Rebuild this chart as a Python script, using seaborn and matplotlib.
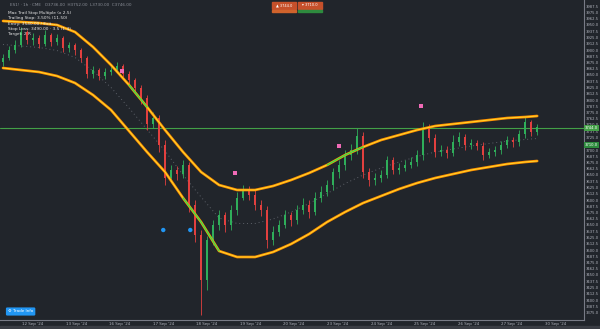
import numpy as np
import pandas as pd
import matplotlib
matplotlib.use("Agg")
import matplotlib.pyplot as plt
import seaborn as sns

# ---------------- data ----------------
opens = [3876,3884,3900,3910,3936,3920,3924,3912,3930,3916,
         3924,3904,3910,3900,3884,3852,3860,3848,3856,3860,
         3868,3852,3840,3824,3804,3752,3764,3710,3644,3660,
         3652,3670,3590,3530,3440,3520,3550,3570,3550,3580,
         3604,3620,3610,3590,3580,3520,3536,3550,3570,3560,
         3580,3590,3576,3604,3616,3630,3656,3670,3690,3700,
         3728,3656,3640,3644,3650,3680,3660,3664,3670,3676,
         3690,3744,3724,3696,3700,3694,3716,3726,3710,3714,
         3708,3690,3696,3700,3710,3720,3716,3732,3756,3736]
closes = [3884,3900,3910,3936,3920,3924,3912,3930,3916,3924,
          3904,3910,3900,3884,3852,3860,3848,3856,3860,3868,
          3852,3840,3824,3804,3752,3764,3710,3644,3660,3652,
          3670,3590,3530,3440,3520,3550,3570,3550,3580,3604,
          3620,3610,3590,3580,3520,3536,3550,3570,3560,3580,
          3590,3576,3604,3616,3630,3656,3670,3690,3700,3728,
          3656,3640,3644,3650,3680,3660,3664,3670,3676,3690,
          3744,3724,3696,3700,3694,3716,3726,3710,3714,3708,
          3690,3696,3700,3710,3720,3716,3732,3756,3736,3746]
highs = [3892,3908,3920,3946,3940,3934,3930,3940,3934,3932,
         3928,3916,3914,3904,3888,3868,3864,3864,3868,3876,
         3872,3858,3844,3830,3810,3776,3770,3720,3670,3668,
         3680,3676,3600,3540,3528,3560,3580,3576,3590,3616,
         3630,3628,3620,3600,3588,3548,3560,3580,3576,3590,
         3604,3600,3616,3628,3640,3664,3680,3700,3712,3744,
         3736,3664,3654,3660,3688,3686,3674,3680,3686,3700,
         3756,3752,3732,3710,3708,3730,3736,3732,3722,3720,
         3716,3704,3708,3718,3728,3726,3740,3766,3760,3752]
lows = [3868,3880,3894,3906,3912,3910,3904,3908,3908,3910,
        3896,3896,3890,3876,3844,3844,3840,3842,3850,3854,
        3846,3832,3814,3792,3740,3744,3696,3630,3636,3640,
        3644,3576,3516,3370,3420,3510,3540,3536,3540,3570,
        3600,3600,3580,3568,3504,3510,3528,3544,3548,3552,
        3572,3564,3570,3596,3608,3620,3644,3660,3680,3692,
        3644,3628,3630,3636,3644,3652,3652,3658,3664,3668,
        3680,3716,3686,3688,3684,3688,3708,3700,3702,3700,
        3680,3684,3688,3692,3704,3706,3708,3724,3728,3730]

band_bars = [0,3,6,9,12,15,18,21,24,27,30,33,36,39,42,45,48,51,54,57,60,
             63,66,69,72,75,78,81,84,87,89]
upper_band = [3958,3956,3954,3950,3936,3906,3870,3830,3786,3740,3696,3656,3630,
              3620,3620,3628,3640,3654,3670,3690,3706,3720,3730,3740,3748,3752,
              3756,3760,3764,3766,3768]
lower_band = [3864,3860,3856,3848,3834,3810,3780,3738,3696,3656,3604,3556,3498,
              3486,3486,3496,3512,3532,3556,3576,3594,3608,3622,3634,3644,3652,
              3660,3666,3672,3676,3678]

signal_bar = [19.8, 38.7, 56.0, 69.7]
signal_price = [3858, 3654, 3708, 3788]
entry_bar = [26.7, 31.2]
entry_price = [3540, 3540]
level_price = 3744
level2_price = 3710

date_labels = ["12 Sep '24", "13 Sep '24", "16 Sep '24", "17 Sep '24", "18 Sep '24",
               "19 Sep '24", "20 Sep '24", "23 Sep '24", "24 Sep '24", "25 Sep '24",
               "26 Sep '24", "27 Sep '24", "30 Sep '24"]

# ---------------- style ----------------
BG = "#21252b"
TXT = "#b2b5be"
sns.set_theme(style="dark")
plt.rcParams['font.family'] = ['DejaVu Sans']
plt.rcParams['axes.facecolor'] = BG
plt.rcParams['figure.facecolor'] = BG

fig = plt.figure(figsize=(6.0, 3.29), dpi=100)
ax = fig.add_axes([0, 9/329, 584/600, 320/329])
ax.set_facecolor(BG)

n = len(opens)
idx = np.arange(n)
df = pd.DataFrame({"bar": idx, "open": opens, "close": closes, "high": highs, "low": lows})
up = df["close"] >= df["open"]
colors = np.where(up, "#2fae5a", "#e2403f")

ax.vlines(df["bar"], df["low"], df["high"], colors=colors, linewidth=0.6, zorder=2)
body_lo = np.minimum(df["open"], df["close"])
body_h = np.maximum(np.abs(df["close"] - df["open"]), 1.5)
ax.bar(df["bar"], body_h, bottom=body_lo, width=0.4, color=colors, linewidth=0, zorder=3)

# bands
bdf = pd.DataFrame({"bar": band_bars, "upper": upper_band, "lower": lower_band})
bdf["mid"] = (bdf["upper"] + bdf["lower"]) / 2
sns.lineplot(data=bdf, x="bar", y="mid", ax=ax, color="#5d6169", lw=0.7,
             linestyle=(0, (1, 3)), zorder=1)
for col in ["upper", "lower"]:
    sns.lineplot(data=bdf, x="bar", y=col, ax=ax, color="#ff8f00", lw=1.9, zorder=4)
    sns.lineplot(data=bdf, x="bar", y=col, ax=ax, color="#ffe033", lw=0.6, zorder=5)
seg = [(bdf["bar"].between(21, 24), "upper"), (bdf["bar"].between(30, 36), "lower"),
       (bdf["bar"].between(54, 60), "upper")]
for mask, col in seg:
    sub = bdf[mask]
    sns.lineplot(data=sub, x="bar", y=col, ax=ax, color="#3ddc4a", lw=1.0, zorder=6)

ax.axhline(level_price, color="#43a047", lw=0.8, zorder=1)

sdf = pd.DataFrame({"bar": signal_bar, "price": signal_price})
sns.scatterplot(data=sdf, x="bar", y="price", ax=ax, marker="s", s=9, color="#f06ab6",
                edgecolor="none", zorder=7)
edf = pd.DataFrame({"bar": entry_bar, "price": entry_price})
sns.scatterplot(data=edf, x="bar", y="price", ax=ax, marker="o", s=10, color="#2196f3",
                edgecolor="none", zorder=7)

# axes
ax.set_xlim(-0.5, 96.8)
ax.set_ylim(3360, 4000)
ax.set_xlabel("")
ax.set_ylabel("")
ax.yaxis.tick_right()
yt = np.arange(3375, 4000, 12.5)
ax.set_yticks(yt)
ax.set_yticklabels([f"{v:.1f}" for v in yt], fontsize=2.7, color=TXT)
ax.tick_params(axis="y", length=0, pad=1.0)
xt = [5 + 7.25 * k for k in range(len(date_labels))]
ax.set_xticks(xt)
ax.set_xticklabels(date_labels, fontsize=2.9, color=TXT)
ax.tick_params(axis="x", length=0, pad=1.2)
ax.grid(False)
for s in ["top", "left"]:
    ax.spines[s].set_visible(False)
ax.spines["right"].set_color("#787b86")
ax.spines["right"].set_linewidth(0.8)
ax.spines["bottom"].set_color("#787b86")
ax.spines["bottom"].set_linewidth(0.8)

tr = ax.get_yaxis_transform()
for p, c in [(level_price, "#43a047"), (level2_price, "#2e8b3e")]:
    ax.text(1.002, p, f"{p:.1f}", transform=tr, fontsize=2.7, color="white",
            va="center", ha="left",
            bbox=dict(boxstyle="square,pad=0.2", fc=c, ec="none"), clip_on=False, zorder=10)

fig.patches.append(plt.Rectangle((0, 0), 1, 3/329, transform=fig.transFigure,
                                 color="#3a3d44", zorder=0))

fig.text(10/600, 1 - 5/329, "ES1! · 1h · CME   O3736.00  H3752.00  L3730.00  C3746.00",
         fontsize=3.0, color="#8a8e97", va="center")
lines = ["Max Trail Stop Multiple (x 2.5)", "Trailing Stop: 3.50% (11.50)",
         "Entry: 3540.00 / Exit: ---", "Stop Loss: 3490.00 · 3.5 (1.4)", "Target: 2 R"]
for k, t in enumerate(lines):
    fig.text(8/600, 1 - (13 + 5.3 * k) / 329, t, fontsize=3.1, color="#e8e8e8", va="center")

for x0, t, uc in [(272, "▲ 3744.0", "#d0632c"), (298, "▾ 3710.0", "#2e8b3e")]:
    fig.patches.append(plt.Rectangle((x0/600, 1 - 8.5/329), 24/600, 6.5/329,
                                     transform=fig.transFigure, color="#c5502b", zorder=5))
    fig.text((x0 + 12)/600, 1 - 5.3/329, t, fontsize=2.6, color="white", ha="center",
             va="center", zorder=6)
    fig.patches.append(plt.Rectangle((x0/600, 1 - 11.5/329), 24/600, 1.3/329,
                                     transform=fig.transFigure, color=uc, zorder=5))

fig.text(8/600, 1 - 311.5/329, "⚙ Trade Info", fontsize=3.0, color="white", va="center",
         bbox=dict(boxstyle="round,pad=0.5,rounding_size=0.3", fc="#2196f3", ec="none"))

fig.savefig("out.png", dpi=100, facecolor=BG)
